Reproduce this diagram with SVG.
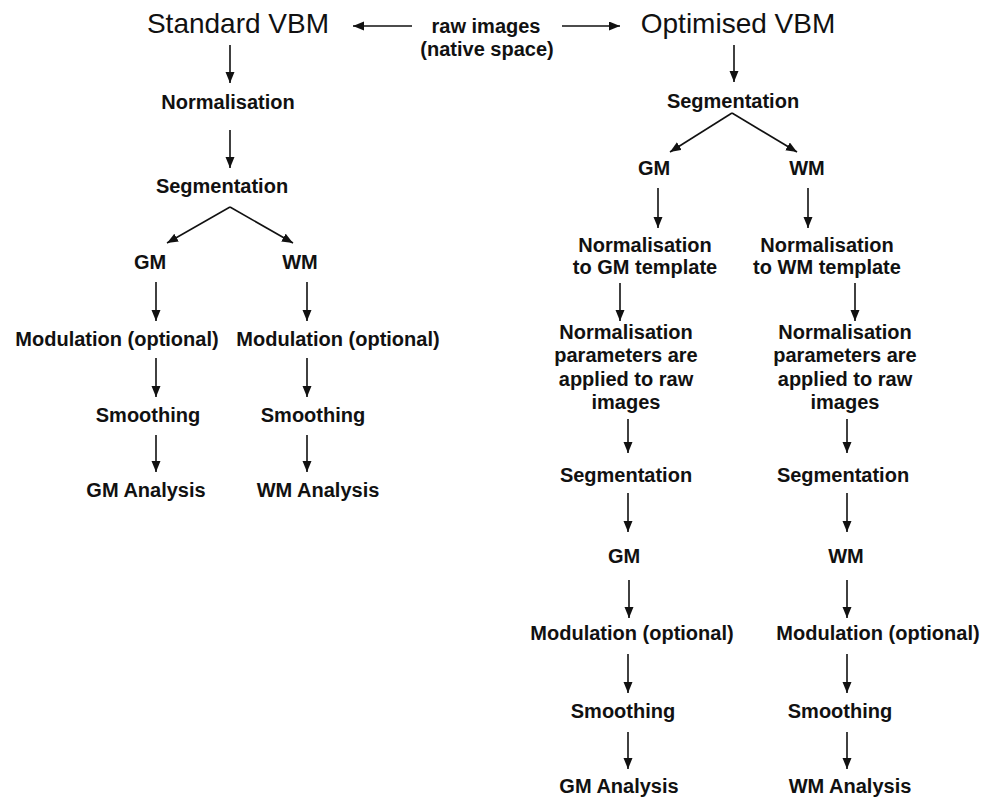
<svg xmlns="http://www.w3.org/2000/svg" width="982" height="800" viewBox="0 0 982 800">
<defs>
<style>
.t{font-family:"Liberation Sans",Arial,sans-serif;font-size:20px;font-weight:bold;fill:#111;text-anchor:middle}
.h{font-family:"Liberation Sans",Arial,sans-serif;font-size:28px;fill:#111;text-anchor:middle}
.c line{stroke:#111;stroke-width:1.6;marker-end:url(#ah)}
</style>
<marker id="ah" markerUnits="userSpaceOnUse" markerWidth="12" markerHeight="10" refX="11" refY="4.5" orient="auto">
<path d="M0,0 L11,4.5 L0,9 z" fill="#111"/>
</marker>
</defs>
<rect width="982" height="800" fill="#fff"/>
<g id="standard"><text class="h" x="238" y="33">Standard VBM</text></g>
<g id="raw"><text class="t" x="486" y="33">raw images</text><text class="t" x="487" y="56">(native space)</text></g>
<g id="optimised"><text class="h" x="738" y="33">Optimised VBM</text></g>
<g id="s-norm"><text class="t" x="228" y="109">Normalisation</text></g>
<g id="s-seg"><text class="t" x="222" y="193">Segmentation</text></g>
<g id="s-gm"><text class="t" x="150" y="269">GM</text></g>
<g id="s-wm"><text class="t" x="300" y="269">WM</text></g>
<g id="s-gm-mod"><text class="t" x="117" y="346">Modulation (optional)</text></g>
<g id="s-wm-mod"><text class="t" x="338" y="346">Modulation (optional)</text></g>
<g id="s-gm-smooth"><text class="t" x="148" y="422">Smoothing</text></g>
<g id="s-wm-smooth"><text class="t" x="313" y="422">Smoothing</text></g>
<g id="s-gm-an"><text class="t" x="146" y="497">GM Analysis</text></g>
<g id="s-wm-an"><text class="t" x="318" y="497">WM Analysis</text></g>
<g id="o-seg"><text class="t" x="733" y="108">Segmentation</text></g>
<g id="o-gm"><text class="t" x="654" y="175">GM</text></g>
<g id="o-wm"><text class="t" x="807" y="175">WM</text></g>
<g id="o-gm-norm"><text class="t" x="645" y="252">Normalisation</text><text class="t" x="645" y="274">to GM template</text></g>
<g id="o-wm-norm"><text class="t" x="827" y="252">Normalisation</text><text class="t" x="827" y="274">to WM template</text></g>
<g id="o-gm-par"><text class="t" x="626" y="339">Normalisation</text><text class="t" x="626" y="362">parameters are</text><text class="t" x="626" y="386">applied to raw</text><text class="t" x="626" y="409">images</text></g>
<g id="o-wm-par"><text class="t" x="845" y="339">Normalisation</text><text class="t" x="845" y="362">parameters are</text><text class="t" x="845" y="386">applied to raw</text><text class="t" x="845" y="409">images</text></g>
<g id="o-gm-seg"><text class="t" x="626" y="482">Segmentation</text></g>
<g id="o-wm-seg"><text class="t" x="843" y="482">Segmentation</text></g>
<g id="o-gm2"><text class="t" x="624" y="563">GM</text></g>
<g id="o-wm2"><text class="t" x="846" y="563">WM</text></g>
<g id="o-gm-mod"><text class="t" x="632" y="640">Modulation (optional)</text></g>
<g id="o-wm-mod"><text class="t" x="878" y="640">Modulation (optional)</text></g>
<g id="o-gm-smooth"><text class="t" x="623" y="718">Smoothing</text></g>
<g id="o-wm-smooth"><text class="t" x="840" y="718">Smoothing</text></g>
<g id="o-gm-an"><text class="t" x="619" y="793">GM Analysis</text></g>
<g id="o-wm-an"><text class="t" x="850" y="793">WM Analysis</text></g>
<g id="connectors" class="c">
<line x1="412" y1="26" x2="353" y2="26"/>
<line x1="562" y1="26" x2="620" y2="26"/>
<line x1="230" y1="45" x2="230" y2="83"/>
<line x1="230" y1="130" x2="230" y2="168"/>
<line x1="230" y1="207" x2="167" y2="243"/>
<line x1="230" y1="207" x2="293" y2="243"/>
<line x1="156" y1="282" x2="156" y2="321"/>
<line x1="307" y1="282" x2="307" y2="321"/>
<line x1="156" y1="358" x2="156" y2="397"/>
<line x1="307" y1="358" x2="307" y2="397"/>
<line x1="156" y1="435" x2="156" y2="472"/>
<line x1="307" y1="435" x2="307" y2="472"/>
<line x1="734" y1="45" x2="734" y2="82"/>
<line x1="732" y1="113" x2="670" y2="152"/>
<line x1="732" y1="113" x2="797" y2="152"/>
<line x1="658" y1="188" x2="658" y2="228"/>
<line x1="808" y1="188" x2="808" y2="228"/>
<line x1="620" y1="283" x2="620" y2="321"/>
<line x1="855" y1="283" x2="855" y2="321"/>
<line x1="628" y1="419" x2="628" y2="453"/>
<line x1="847" y1="419" x2="847" y2="453"/>
<line x1="628" y1="493" x2="628" y2="532"/>
<line x1="847" y1="493" x2="847" y2="532"/>
<line x1="629" y1="580" x2="629" y2="618"/>
<line x1="847" y1="580" x2="847" y2="618"/>
<line x1="628" y1="654" x2="628" y2="693"/>
<line x1="847" y1="654" x2="847" y2="693"/>
<line x1="628" y1="732" x2="628" y2="769"/>
<line x1="847" y1="732" x2="847" y2="769"/>
</g>
</svg>
